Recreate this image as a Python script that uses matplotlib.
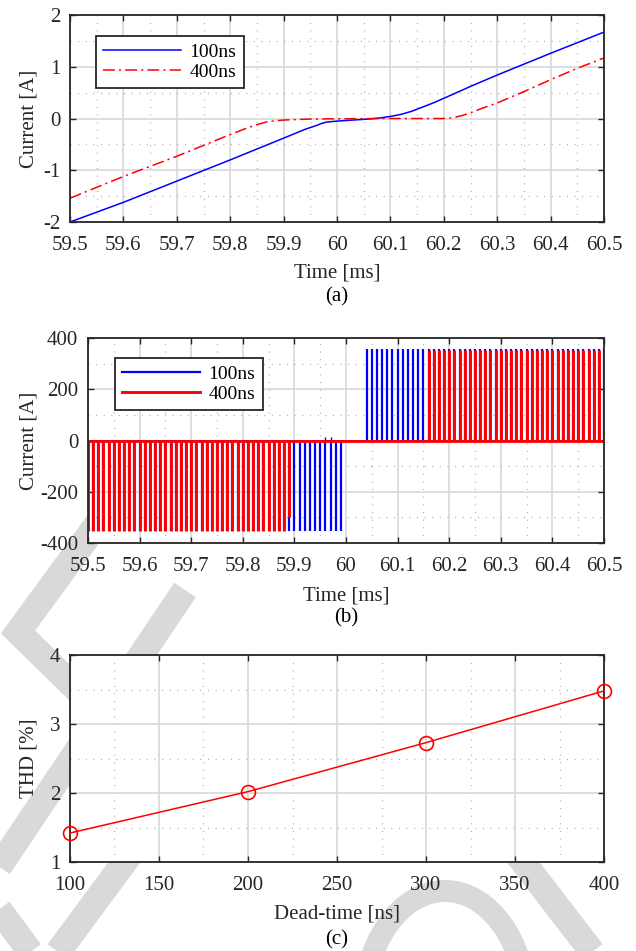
import numpy as np
import matplotlib
matplotlib.use('Agg')
import matplotlib.pyplot as plt
from matplotlib.lines import Line2D
from matplotlib.patches import Ellipse

plt.rcParams['font.family'] = ['Liberation Serif', 'DejaVu Serif']
plt.rcParams['lines.scale_dashes'] = False

# ---------------- data ----------------
# (a) phase current
t_100 = [59.50, 59.60, 59.70, 59.80, 59.90, 59.94, 59.96, 59.97, 59.98, 60.00, 60.03,
         60.06, 60.08, 60.10, 60.12, 60.14, 60.16, 60.18, 60.20, 60.25, 60.30, 60.40, 60.50]
i_100 = [-2.00, -1.62, -1.21, -0.80, -0.38, -0.21, -0.14, -0.10, -0.07, -0.05, -0.03,
         -0.01, 0.01, 0.04, 0.08, 0.14, 0.22, 0.30, 0.39, 0.62, 0.84, 1.26, 1.67]
t_400 = [59.50, 59.60, 59.70, 59.80, 59.83, 59.85, 59.87, 59.90, 59.95, 60.00, 60.10,
         60.20, 60.21, 60.22, 60.235, 60.25, 60.27, 60.30, 60.35, 60.40, 60.45, 60.50]
i_400 = [-1.54, -1.12, -0.73, -0.31, -0.19, -0.12, -0.06, -0.03, -0.01, -0.005, 0.0,
         0.0, 0.005, 0.02, 0.06, 0.11, 0.19, 0.30, 0.52, 0.75, 0.97, 1.17]

# (b) switch current pulses (pulse instants in ms, amplitude in A)
b100_neg_t = [59.50, 59.51, 59.52, 59.53, 59.54, 59.55, 59.56, 59.57, 59.58, 59.59,
              59.60, 59.61, 59.62, 59.63, 59.64, 59.65, 59.66, 59.67, 59.68, 59.69,
              59.70, 59.71, 59.72, 59.73, 59.74, 59.75, 59.76, 59.77, 59.78, 59.79,
              59.80, 59.81, 59.82, 59.83, 59.84, 59.85, 59.86, 59.87, 59.88, 59.89,
              59.90, 59.91, 59.92, 59.93, 59.94, 59.95, 59.96, 59.97, 59.98, 59.99]
b100_pos_t = [60.04, 60.05, 60.06, 60.07, 60.08, 60.09, 60.10, 60.11, 60.12, 60.13,
              60.14, 60.15, 60.16, 60.17, 60.18, 60.19, 60.20, 60.21, 60.22, 60.23,
              60.24, 60.25, 60.26, 60.27, 60.28, 60.29, 60.30, 60.31, 60.32, 60.33,
              60.34, 60.35, 60.36, 60.37, 60.38, 60.39, 60.40, 60.41, 60.42, 60.43,
              60.44, 60.45, 60.46, 60.47, 60.48, 60.49, 60.50]
b100_spike_t = [59.96, 59.97]
b100_spike_i = [15, 12]
b400_neg_t = [59.50, 59.51, 59.52, 59.53, 59.54, 59.55, 59.56, 59.57, 59.58, 59.59,
              59.60, 59.61, 59.62, 59.63, 59.64, 59.65, 59.66, 59.67, 59.68, 59.69,
              59.70, 59.71, 59.72, 59.73, 59.74, 59.75, 59.76, 59.77, 59.78, 59.79,
              59.80, 59.81, 59.82, 59.83, 59.84, 59.85, 59.86, 59.87, 59.88]
b400_pos_t = [60.16, 60.17, 60.18, 60.19, 60.20, 60.21, 60.22, 60.23, 60.24, 60.25,
              60.26, 60.27, 60.28, 60.29, 60.30, 60.31, 60.32, 60.33, 60.34, 60.35,
              60.36, 60.37, 60.38, 60.39, 60.40, 60.41, 60.42, 60.43, 60.44, 60.45,
              60.46, 60.47, 60.48, 60.49, 60.50]
b400_last_neg_t = [59.89]
b400_last_neg_i = [-300]
pulse_amp_100 = 355
pulse_amp_400 = 355

# (c) THD vs dead-time
dead_time = [100, 200, 300, 400]
thd = [1.42, 2.02, 2.73, 3.48]

time_ticks = [59.5, 59.6, 59.7, 59.8, 59.9, 60.0, 60.1, 60.2, 60.3, 60.4, 60.5]
time_labels = ['59.5', '59.6', '59.7', '59.8', '59.9', '60', '60.1', '60.2', '60.3', '60.4', '60.5']
time_minor = [59.55, 59.65, 59.75, 59.85, 59.95, 60.05, 60.15, 60.25, 60.35, 60.45]

# ---------------- figure ----------------
W, H = 636, 951
fig = plt.figure(figsize=(W / 100, H / 100), dpi=100)

FS = 15
LFS = 14
TXT = '#262626'

def px_axes(l, t, r, b):
    return fig.add_axes([l / W, 1 - b / H, (r - l) / W, (b - t) / H])

def style(ax, xt, xl, xm, yt, yl, ym, xlim, ylim):
    ax.set_xlim(*xlim)
    ax.set_ylim(*ylim)
    ax.set_xticks(xt)
    ax.set_xticklabels(xl)
    ax.set_xticks(xm, minor=True)
    ax.set_yticks(yt)
    ax.set_yticklabels(yl)
    ax.set_yticks(ym, minor=True)
    ax.set_axisbelow(True)
    ax.grid(which='major', color='#d8d8d8', lw=1.2, ls='-')
    ax.grid(which='minor', color='#a8a8a8', lw=0.9, ls=(0, (0.7, 4.8)))
    ax.tick_params(which='major', direction='in', length=4, width=1.0,
                   top=True, right=True, colors=TXT, labelsize=FS)
    ax.tick_params(axis='x', which='major', pad=10)
    ax.tick_params(axis='y', which='major', pad=7)
    ax.tick_params(which='minor', length=0, top=True, right=True)
    for s in ax.spines.values():
        s.set_linewidth(1.3)
        s.set_color(TXT)

def make_legend(ax, handles, labels, anchor):
    lg = ax.legend(handles, labels, loc='upper left', bbox_to_anchor=anchor, borderaxespad=0,
                   fancybox=False, edgecolor=TXT, framealpha=1, fontsize=LFS,
                   handlelength=4.0, handletextpad=0.42, labelspacing=0.12, borderpad=0.38)
    lg.get_frame().set_linewidth(1.3)
    return lg

# watermark (behind axes)
WM = '#d9d9d9'
def wm_line(pts, lw_px):
    xs = [p[0] / W for p in pts]
    ys = [1 - p[1] / H for p in pts]
    ln = Line2D(xs, ys, transform=fig.transFigure, color=WM, lw=lw_px * 0.72,
                solid_capstyle='butt', solid_joinstyle='miter', zorder=-5)
    fig.add_artist(ln)

wm_line([(100, 520), (18, 632), (110, 722)], 26)
wm_line([(185, 590), (-30, 910)], 26)
wm_line([(200, 760), (30, 990)], 26)
wm_line([(-30, 870), (40, 965)], 26)
wm_line([(470, 793), (620, 988)], 26)
ell = Ellipse((445 / W, 1 - 1010 / H), 164 / W, 238 / H, transform=fig.transFigure,
              fill=False, edgecolor=WM, lw=22 * 0.72, zorder=-5)
fig.add_artist(ell)

# ---- (a)
ax1 = px_axes(70, 15, 604, 222)
style(ax1, time_ticks, time_labels, time_minor,
      [-2, -1, 0, 1, 2], ['-2', '-1', '0', '1', '2'], [-1.5, -0.5, 0.5, 1.5],
      (59.5, 60.5), (-2, 2))
l1, = ax1.plot(t_100, i_100, color='#0000ff', lw=1.1)
l2, = ax1.plot(t_400, i_400, color='#ff0000', lw=1.1)
l2.set_dashes([8.5, 3.0, 1.5, 3.0])
ax1.set_xlabel('Time [ms]', fontsize=FS, labelpad=6, color=TXT)
ax1.set_ylabel('Current [A]', fontsize=FS, labelpad=3, color=TXT)
make_legend(ax1, [l1, l2], ['100ns', '400ns'], (0.0487, 0.8986))

# ---- (b)
ax2 = px_axes(88, 338, 604, 543)
style(ax2, time_ticks, time_labels, time_minor,
      [-400, -200, 0, 200, 400], ['-400', '-200', '0', '200', '400'], [-300, -100, 100, 300],
      (59.5, 60.5), (-400, 400))
ax2.plot([59.5, 60.5], [0, 0], color='#0000ff', lw=1.2)
ax2.vlines(b100_neg_t, 0, -pulse_amp_100, color='#0000ff', lw=1.6)
ax2.vlines(b100_pos_t, 0, pulse_amp_100 + 4, color='#0000ff', lw=1.6)
ax2.vlines(b100_spike_t, 0, b100_spike_i, color='#0000ff', lw=1.0)
ax2.vlines(b400_neg_t, 0, -pulse_amp_400, color='#ff0000', lw=2.1)
ax2.vlines(b400_last_neg_t, 0, b400_last_neg_i, color='#ff0000', lw=2.1)
ax2.vlines(b400_pos_t, 0, pulse_amp_400, color='#ff0000', lw=2.1)
ax2.plot([59.5, 60.5], [0, 0], color='#ff0000', lw=2.0)
ax2.set_xlabel('Time [ms]', fontsize=FS, labelpad=8, color=TXT)
ax2.set_ylabel('Current [A]', fontsize=FS, labelpad=1, color=TXT)
h1 = Line2D([], [], color='#0000ff', lw=1.6)
h2 = Line2D([], [], color='#ff0000', lw=2.1)
make_legend(ax2, [h1, h2], ['100ns', '400ns'], (0.0522, 0.902))

# ---- (c)
ax3 = px_axes(70, 655, 604, 862)
style(ax3, [100, 150, 200, 250, 300, 350, 400], ['100', '150', '200', '250', '300', '350', '400'],
      [125, 175, 225, 275, 325, 375],
      [1, 2, 3, 4], ['1', '2', '3', '4'], [1.5, 2.5, 3.5],
      (100, 400), (1, 4))
ax3.plot(dead_time, thd, color='#ff0000', lw=1.1, marker='o', ms=10, mfc='none',
         mew=1.2, clip_on=False, zorder=5)
ax3.set_xlabel('Dead-time [ns]', fontsize=FS, labelpad=7, color=TXT)
ax3.set_ylabel('THD [%]', fontsize=FS, labelpad=8, color=TXT)

fig.text(337 / W, 1 - 297 / H, '(a)', ha='center', va='center', fontsize=FS, color='black')
fig.text(346 / W, 1 - 618 / H, '(b)', ha='center', va='center', fontsize=FS, color='black')
fig.text(337 / W, 1 - 940 / H, '(c)', ha='center', va='center', fontsize=FS, color='black')

fig.savefig('out.png', dpi=100)
